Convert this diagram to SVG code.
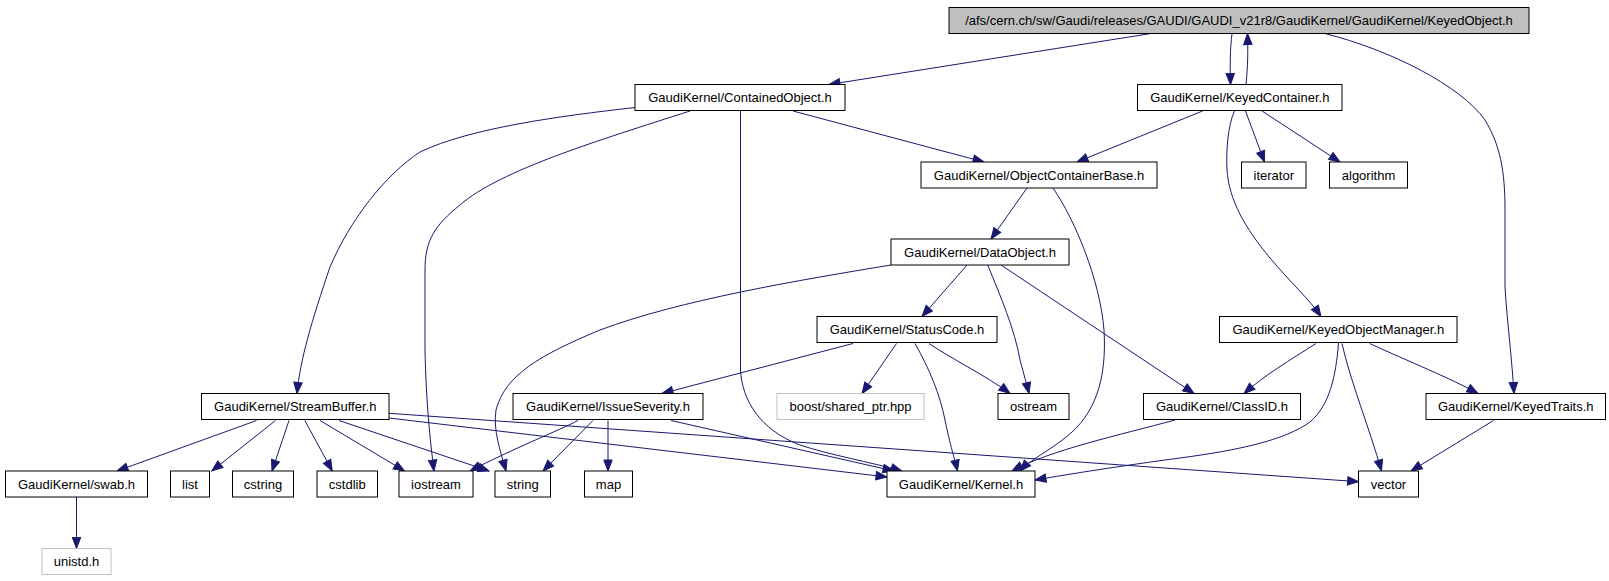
<svg xmlns="http://www.w3.org/2000/svg" width="1609" height="581" viewBox="0 0 1609 581">
<style>
.n rect{fill:#ffffff;stroke:#000000;stroke-width:1}
.n.root rect{fill:#bfbfbf}
.n.ext rect{stroke:#bfbfbf}
.n text{font-family:"Liberation Sans",Arial,sans-serif;font-size:13px;fill:#000000;text-anchor:middle}
#edges path{fill:none;stroke:#191970;stroke-width:1;marker-end:url(#arr)}
</style>
<defs>
<marker id="arr" markerUnits="userSpaceOnUse" viewBox="0 0 13 11" refX="12" refY="5.5" markerWidth="13" markerHeight="11" orient="auto">
<path d="M1,1.3 L12,5.5 L1,9.7 z" fill="#191970" stroke="#191970" stroke-width="1"/>
</marker>
</defs>
<rect x="0" y="0" width="1609" height="581" fill="#ffffff"/>
<g id="edges">
<path d="M1151,33.5 L829,84.5"/>
<path d="M1232,33.5 C1230,50 1230,65 1230.5,84.5"/>
<path d="M1246,84.5 C1248,65 1248,50 1247.5,33.5"/>
<path d="M1325,33.5 C1390,50 1460,85 1485,120 C1500,145 1505,170 1505,210 L1505,287 C1507,320 1512,360 1514,393.5"/>
<path d="M635,107.5 C560,116 470,128 420,152 C385,175 350,220 330,267 C312,320 300,360 297,393.5"/>
<path d="M690,111 C600,140 500,170 460,205 C435,225 425,240 425,270 L425,350 C426,400 430,440 434,471"/>
<path d="M740.5,111 L740.5,370 C742,400 760,430 800,445 C830,455 870,462 902,471"/>
<path d="M793,111 L984,162"/>
<path d="M1202.5,111 L1077,162"/>
<path d="M1234.5,111 C1228,125 1226,150 1227,170 C1229,200 1245,228 1270,258 C1290,282 1310,300 1321,316.5"/>
<path d="M1245.5,111 L1264.5,162"/>
<path d="M1262,111 L1340,162"/>
<path d="M1027,188 L991,239"/>
<path d="M1053,188 C1075,220 1100,280 1104,330 C1107,380 1095,415 1065,438 C1050,450 1030,460 1020,471"/>
<path d="M1175,420 C1120,435 1050,450 1012,471"/>
<path d="M1338.5,343 C1336,375 1330,405 1310,422 C1285,440 1240,450 1180,458 C1120,466 1070,474 1035,480"/>
<path d="M389,413.3 L1358.6,481.7"/>
<path d="M389,418 L887,477"/>
<path d="M671,420.5 L894,471"/>
<path d="M915,343.5 C930,370 940,395 945,420 C950,445 955,460 957.5,471"/>
<path d="M853,343.5 L662,393.5"/>
<path d="M896.5,343.5 L862,393.5"/>
<path d="M929,343.5 C950,358 985,375 1010,393.5"/>
<path d="M987.7,265 C1000,295 1015,330 1020,360 C1024,375 1027,385 1029,393.5"/>
<path d="M967,265 L922,316.5"/>
<path d="M1001,265 L1194,393.5"/>
<path d="M891,265 C800,280 680,300 600,330 C540,355 505,375 496,410 C493,430 500,450 506,471"/>
<path d="M256.5,420.5 L117,471"/>
<path d="M275.5,420.5 L211.8,471"/>
<path d="M289,420.5 L272,471"/>
<path d="M304.8,420.5 L332.3,471"/>
<path d="M320,420.5 L404.6,471"/>
<path d="M339,420.5 L489,471"/>
<path d="M578,420.5 C560,430 510,450 470,471"/>
<path d="M593,420.5 L543,471"/>
<path d="M608,420.5 L608,471"/>
<path d="M1316,343.5 C1290,360 1265,375 1244,393.5"/>
<path d="M1342,343.5 C1350,380 1370,430 1381.5,471"/>
<path d="M1369.6,343.5 C1410,362 1450,378 1478,393.5"/>
<path d="M1493.5,420.5 L1411,471"/>
<path d="M76.5,497 L76.5,548.5"/>
</g>
<g id="root" class="n root"><rect x="949" y="7.5" width="580" height="26"/><text x="1239" y="25">/afs/cern.ch/sw/Gaudi/releases/GAUDI/GAUDI_v21r8/GaudiKernel/GaudiKernel/KeyedObject.h</text></g>
<g id="containedobject" class="n"><rect x="635" y="84.5" width="210" height="26"/><text x="740" y="102">GaudiKernel/ContainedObject.h</text></g>
<g id="keyedcontainer" class="n"><rect x="1137.5" y="84.5" width="204.5" height="26"/><text x="1239.75" y="102">GaudiKernel/KeyedContainer.h</text></g>
<g id="objectcontainerbase" class="n"><rect x="921" y="162" width="236" height="26"/><text x="1039" y="179.5">GaudiKernel/ObjectContainerBase.h</text></g>
<g id="iterator" class="n"><rect x="1241.5" y="162" width="64.5" height="26"/><text x="1273.75" y="179.5">iterator</text></g>
<g id="algorithm" class="n"><rect x="1329.5" y="162" width="78" height="26"/><text x="1368.5" y="179.5">algorithm</text></g>
<g id="dataobject" class="n"><rect x="891" y="239" width="178" height="26"/><text x="980" y="256.5">GaudiKernel/DataObject.h</text></g>
<g id="statuscode" class="n"><rect x="817" y="316.5" width="180" height="26"/><text x="907" y="334">GaudiKernel/StatusCode.h</text></g>
<g id="keyedobjectmanager" class="n"><rect x="1219.5" y="316.5" width="237.5" height="26"/><text x="1338.25" y="334">GaudiKernel/KeyedObjectManager.h</text></g>
<g id="streambuffer" class="n"><rect x="201.5" y="393.5" width="187.5" height="26"/><text x="295.25" y="411">GaudiKernel/StreamBuffer.h</text></g>
<g id="issueseverity" class="n"><rect x="513" y="393.5" width="190" height="26"/><text x="608" y="411">GaudiKernel/IssueSeverity.h</text></g>
<g id="boost" class="n ext"><rect x="777" y="393.5" width="147" height="26"/><text x="850.5" y="411">boost/shared_ptr.hpp</text></g>
<g id="ostream" class="n"><rect x="998" y="393.5" width="71" height="26"/><text x="1033.5" y="411">ostream</text></g>
<g id="classid" class="n"><rect x="1143.5" y="393.5" width="157" height="26"/><text x="1222" y="411">GaudiKernel/ClassID.h</text></g>
<g id="keyedtraits" class="n"><rect x="1426" y="393.5" width="179.5" height="26"/><text x="1515.75" y="411">GaudiKernel/KeyedTraits.h</text></g>
<g id="swab" class="n"><rect x="5.5" y="471" width="142" height="26"/><text x="76.5" y="488.5">GaudiKernel/swab.h</text></g>
<g id="list" class="n"><rect x="170.5" y="471" width="39" height="26"/><text x="190" y="488.5">list</text></g>
<g id="cstring" class="n"><rect x="232.5" y="471" width="61" height="26"/><text x="263" y="488.5">cstring</text></g>
<g id="cstdlib" class="n"><rect x="317" y="471" width="60.5" height="26"/><text x="347.25" y="488.5">cstdlib</text></g>
<g id="iostream" class="n"><rect x="399" y="471" width="74" height="26"/><text x="436" y="488.5">iostream</text></g>
<g id="string" class="n"><rect x="495" y="471" width="55.5" height="26"/><text x="522.75" y="488.5">string</text></g>
<g id="map" class="n"><rect x="584.5" y="471" width="48" height="26"/><text x="608.5" y="488.5">map</text></g>
<g id="kernel" class="n"><rect x="887" y="471" width="148" height="26"/><text x="961" y="488.5">GaudiKernel/Kernel.h</text></g>
<g id="vector" class="n"><rect x="1358.5" y="471" width="60" height="26"/><text x="1388.5" y="488.5">vector</text></g>
<g id="unistd" class="n ext"><rect x="42" y="548.5" width="69" height="26"/><text x="76.5" y="566">unistd.h</text></g>
</svg>
